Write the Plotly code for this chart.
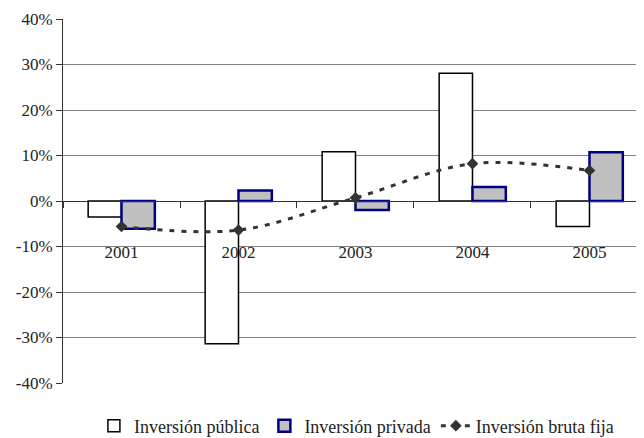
import plotly.graph_objects as go

years = ["2001", "2002", "2003", "2004", "2005"]
inv_publica = [-3.5, -31.4, 10.8, 28.1, -5.6]
inv_privada = [-6.1, 2.3, -2.0, 3.1, 10.7]
inv_bruta_fija = [-5.6, -6.4, 0.7, 8.2, 6.7]
y_ticks = [-40, -30, -20, -10, 0, 10, 20, 30, 40]
y_ticklabels = [f"{v}%" for v in y_ticks]

FONT = "Times New Roman, Liberation Serif, DejaVu Serif, serif"

fig = go.Figure()
fig.add_trace(go.Bar(
    x=years, y=inv_publica, name="Inversión pública",
    marker=dict(color="white", line=dict(color="black", width=1.5)),
))
fig.add_trace(go.Bar(
    x=years, y=inv_privada, name="Inversión privada",
    marker=dict(color="#C0C0C0", line=dict(color="#000080", width=2.5)),
))
fig.add_trace(go.Scatter(
    x=years, y=inv_bruta_fija, name="Inversión bruta fija",
    mode="lines+markers",
    line=dict(color="#333333", width=3, dash="5px,7px", shape="spline", smoothing=1),
    marker=dict(symbol="diamond", size=9, color="#333333"),
))

fig.update_layout(
    width=636, height=430,
    margin=dict(l=55, r=0, t=11, b=55, autoexpand=False),
    paper_bgcolor="white", plot_bgcolor="white",
    barmode="group", bargap=0.43, bargroupgap=0,
    font=dict(family=FONT, size=17, color="#222222"),
    showlegend=True,
    legend=dict(orientation="h", x=0.505, xanchor="center", y=-0.118, yanchor="middle",
                font=dict(family=FONT, size=18, color="#222222"),
                traceorder="normal", itemwidth=30, bgcolor="rgba(0,0,0,0)"),
    xaxis=dict(
        type="category", range=[-0.5, 4.466],
        anchor="free", position=0.5,
        showline=True, linecolor="#333333", linewidth=1,
        ticks="outside", ticklen=6, tickcolor="#333333", tickson="boundaries",
        ticklabelstandoff=36, showgrid=False, zeroline=False,
        tickfont=dict(family=FONT, size=17, color="#222222"),
    ),
    yaxis=dict(
        range=[-40, 40], tickvals=y_ticks, ticktext=y_ticklabels,
        showline=True, linecolor="#333333", linewidth=1,
        ticks="outside", ticklen=6, tickcolor="#333333",
        showgrid=True, gridcolor="#808080", gridwidth=1,
        zeroline=False,
        tickfont=dict(family=FONT, size=17, color="#222222"),
    ),
)

fig.write_html("out.html")
